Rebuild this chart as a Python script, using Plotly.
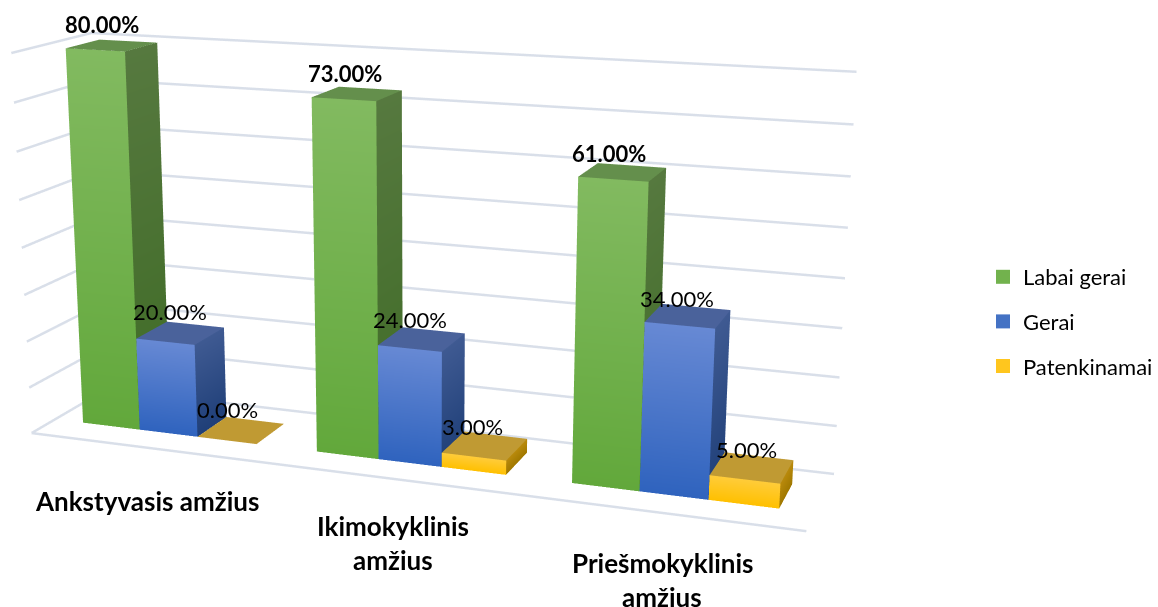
import plotly.graph_objects as go

CATEGORIES = [["Ankstyvasis amžius"], ["Ikimokyklinis", "amžius"], ["Priešmokyklinis", "amžius"]]
SERIES = ["Labai gerai", "Gerai", "Patenkinamai"]
LABAI_GERAI = [80, 73, 61]
GERAI = [20, 24, 34]
PATENKINAMAI = [0, 3, 5]
GRID_LEVELS = [0, 10, 20, 30, 40, 50, 60, 70, 80]

# palette per series: front(top,bottom), side(top,bottom), top face, legend swatch
PALETTE = [
    dict(ft="#82BA60", fb="#62A83B", st="#56793F", sb="#3F6B26", t="#648F4C", sw="#72B24D"),
    dict(ft="#6789D4", fb="#2F63BE", st="#3F5A92", sb="#1F3F78", t="#4A629B", sw="#4472C4"),
    dict(ft="#FFCC3A", fb="#FFC000", st="#B98A0C", sb="#A07800", t="#C09A33", sw="#FFC61E"),
]
GRID = "#D9DFE9"

# scene geometry (category axis 0..3, depth 0..1, value axis 0..80)
X_MAX, Y_MAX, Z_MAX = 3.0, 1.0, 80.0
AR = dict(x=1.0, y=0.2, z=0.493)
BAR_W = 0.25
BAR_M = 0.125
Y0, Y1 = 0.30, 0.73

W, H = 1178, 1660
OFF_X, OFF_Y = 20, 532

# label nudges in pixels (right, down) for each series / category
LABEL_NUDGE = [
    [(0, 0), (-2, 1), (-4, 2)],
    [(1, -1), (0, 1), (1, 4)],
    [(0, 0), (2, 2), (8, 3)],
]

fig = go.Figure()

# walls / floor grid
gx, gy, gz = [], [], []
for lv in GRID_LEVELS:
    gx += [0, 0, X_MAX, None]
    gy += [0, Y_MAX, Y_MAX, None]
    gz += [lv, lv, lv, None]
gx += [0, X_MAX, None]
gy += [0, 0, None]
gz += [0, 0, None]
fig.add_trace(go.Scatter3d(x=gx, y=gy, z=gz, mode="lines", line=dict(color=GRID, width=5),
                           hoverinfo="skip", showlegend=False))

for s, values in enumerate([LABAI_GERAI, GERAI, PATENKINAMAI]):
    p = PALETTE[s]
    xs, ys, zs, cols, I, J, K = [], [], [], [], [], [], []

    def quad(pts, colors):
        n = len(xs)
        for (a, b, c), col in zip(pts, colors):
            xs.append(a); ys.append(b); zs.append(c); cols.append(col)
        I.extend([n, n]); J.extend([n + 1, n + 2]); K.extend([n + 2, n + 3])

    for c, v in enumerate(values):
        x0 = c + BAR_M + s * BAR_W
        x1 = x0 + BAR_W
        quad([(x0, Y0, 0), (x1, Y0, 0), (x1, Y0, v), (x0, Y0, v)],
             [p["fb"], p["fb"], p["ft"], p["ft"]])
        quad([(x1, Y0, 0), (x1, Y1, 0), (x1, Y1, v), (x1, Y0, v)],
             [p["sb"], p["sb"], p["st"], p["st"]])
        quad([(x0, Y0, v), (x1, Y0, v), (x1, Y1, v), (x0, Y1, v)], [p["t"]] * 4)
    fig.add_trace(go.Mesh3d(x=xs, y=ys, z=zs, i=I, j=J, k=K, vertexcolor=cols, flatshading=True,
                            lighting=dict(ambient=1, diffuse=0, specular=0, fresnel=0, roughness=1),
                            hoverinfo="skip", showlegend=False, name=SERIES[s]))
    fig.add_trace(go.Scatter3d(x=[None], y=[None], z=[None], mode="markers", name=SERIES[s],
                               legendgroup=SERIES[s],
                               marker=dict(symbol="square", size=14, color=p["sw"]), hoverinfo="skip"))

annots = []
for s, values in enumerate([LABAI_GERAI, GERAI, PATENKINAMAI]):
    for c, v in enumerate(values):
        xc = c + BAR_M + (s + 0.5) * BAR_W
        nx, ny = LABEL_NUDGE[s][c]
        annots.append(dict(x=xc, y=(Y0 + Y1) / 2, z=v, text=f"{v:.2f}%", showarrow=False,
                           xshift=-10 - 2 * s + nx, yshift=21 - ny,
                           font=dict(family="Lato", size=22, color="#000000",
                                     weight="bold" if s == 0 else "normal")))
CAT_DY = [53, 47, 50]
for c, lines in enumerate(CATEGORIES):
    for n, line in enumerate(lines):
        annots.append(dict(x=c + 0.5, y=0, z=0, text=line, showarrow=False,
                           yshift=-(CAT_DY[c] + n * 34),
                           font=dict(family="Lato", size=26, color="#000000", weight="bold")))

axis = dict(visible=False, showgrid=False, showspikes=False, showbackground=False, zeroline=False)
fig.update_layout(
    width=W, height=H, margin=dict(l=0, r=0, t=0, b=0), paper_bgcolor="white",
    font=dict(family="Lato", color="#000000"),
    legend=dict(x=(984 + OFF_X) / W, xanchor="left", y=1 - (256 + OFF_Y) / H, yanchor="top",
                font=dict(family="Lato", size=22), tracegroupgap=13, traceorder="grouped",
                bgcolor="rgba(0,0,0,0)"),
    scene=dict(
        domain=dict(x=[0, 890 / W], y=[0, 1]),
        xaxis=dict(range=[0, X_MAX], **axis),
        yaxis=dict(range=[0, Y_MAX], **axis),
        zaxis=dict(range=[0, Z_MAX], **axis),
        aspectmode="manual", aspectratio=AR,
        camera=dict(eye=dict(x=0.8191, y=-2.2373, z=0.5934),
                    center=dict(x=0.0261, y=-0.0588, z=-0.0277),
                    up=dict(x=0, y=0, z=1),
                    projection=dict(type="perspective")),
        annotations=annots,
    ),
)

post = """
var g = document.getElementById('{plot_id}');
document.documentElement.style.overflow = 'hidden';
document.body.style.overflow = 'hidden';
document.body.style.margin = '0';
g.style.position = 'absolute';
g.style.left = '-%dpx';
g.style.top = '-%dpx';
""" % (OFF_X, OFF_Y)
fig.write_html("out.html", post_script=post, config=dict(displayModeBar=False))
